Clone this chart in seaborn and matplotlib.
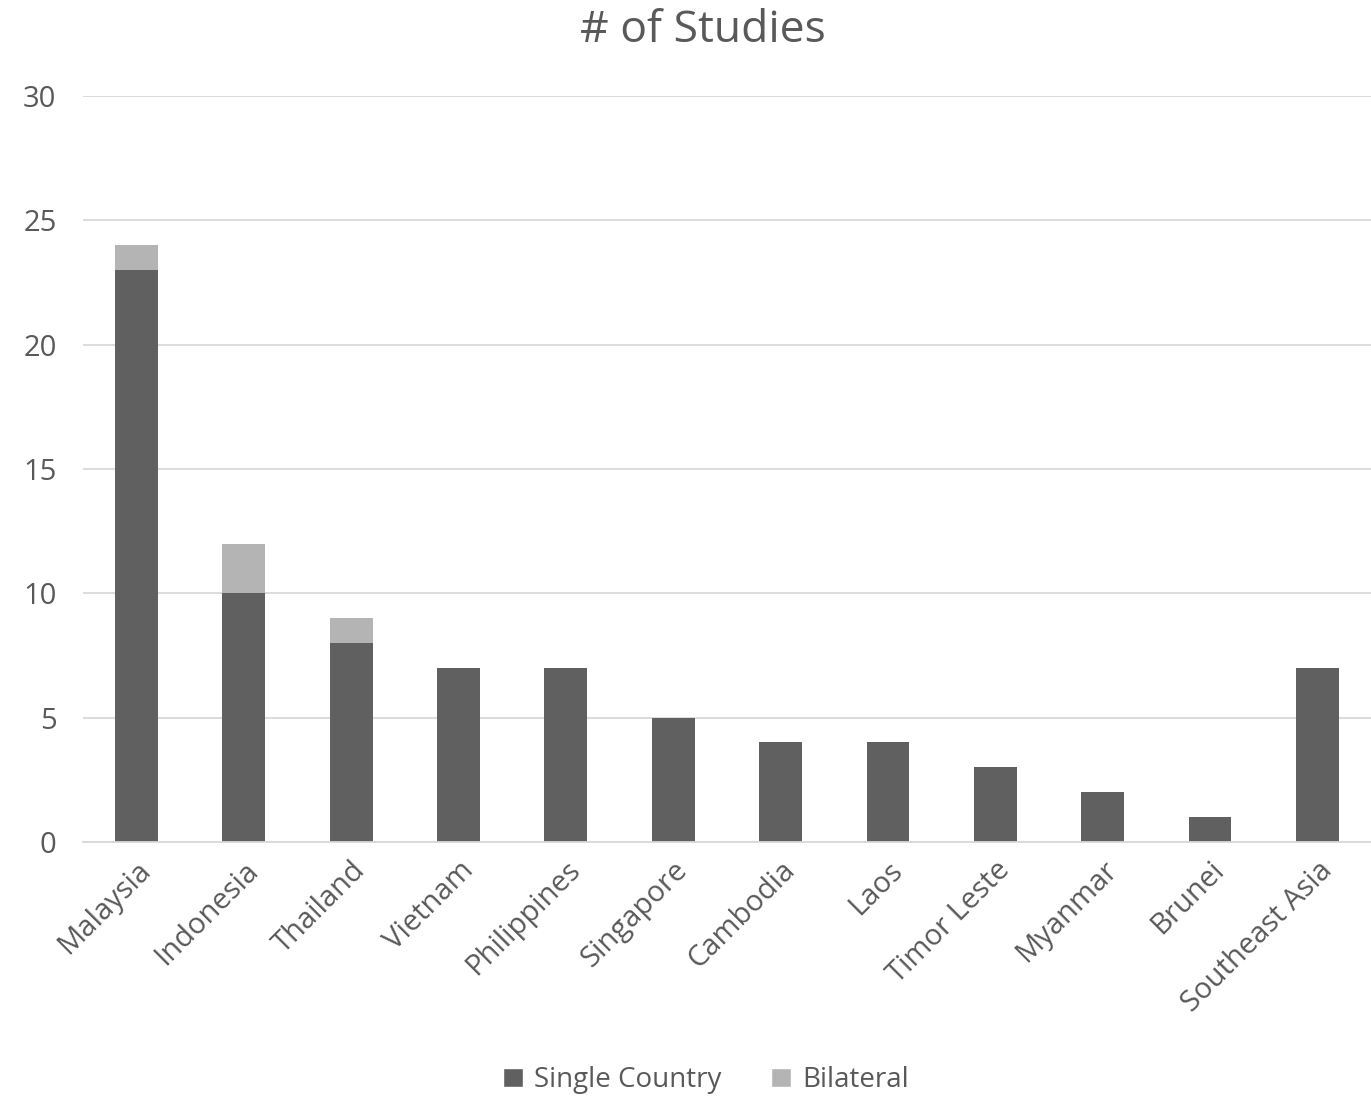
import pandas as pd
import matplotlib
matplotlib.use("Agg")
import matplotlib.pyplot as plt
import seaborn as sns
from matplotlib.patches import Patch

countries = ["Malaysia", "Indonesia", "Thailand", "Vietnam", "Philippines", "Singapore",
             "Cambodia", "Laos", "Timor Leste", "Myanmar", "Brunei", "Southeast Asia"]
single_country = [23, 10, 8, 7, 7, 5, 4, 4, 3, 2, 1, 7]
bilateral = [1, 2, 1, 0, 0, 0, 0, 0, 0, 0, 0, 0]

dark = "#606060"
light = "#b4b4b4"
text_col = "#595959"

df = pd.DataFrame({"country": countries, "single": single_country, "bilateral": bilateral})
df["total"] = df["single"] + df["bilateral"]

sns.set_style("white")
plt.rcParams["font.family"] = ["Open Sans", "DejaVu Sans"]

fig = plt.figure(figsize=(13.71, 10.98), dpi=100)
ax = fig.add_axes([0.0605, 0.2332, 0.9395, 0.6794])

# stacked: draw totals first, then single country on top
sns.barplot(data=df, x="country", y="total", color=light, width=0.4, saturation=1,
            linewidth=0, ax=ax)
sns.barplot(data=df, x="country", y="single", color=dark, width=0.4, saturation=1,
            linewidth=0, ax=ax)

ax.set_ylim(0, 30)
ax.set_xlim(-0.5, len(countries) - 0.5)
ax.set_yticks(range(0, 31, 5))
ax.yaxis.grid(True, color="#d9d9d9", linewidth=1.3)
ax.set_axisbelow(True)
for s in ["top", "right", "left"]:
    ax.spines[s].set_visible(False)
ax.spines["bottom"].set_color("#d9d9d9")
ax.spines["bottom"].set_linewidth(1.3)
ax.tick_params(axis="both", length=0, labelsize=21, colors=text_col)
ax.tick_params(axis="y", pad=19)
ax.tick_params(axis="x", pad=10)
ax.set_xlabel("")
ax.set_ylabel("")
plt.setp(ax.get_xticklabels(), rotation=45, ha="right", rotation_mode="anchor")

fig.text(0.513, 0.972, "# of Studies", ha="center", va="center", fontsize=32, color=text_col)

handles = [Patch(facecolor=dark, label="Single Country"), Patch(facecolor=light, label="Bilateral")]
fig.legend(handles=handles, loc="center", bbox_to_anchor=(0.515, 1 - 1080 / 1098), ncol=2,
           frameon=False, fontsize=20, labelcolor=text_col, handlelength=0.7, handleheight=0.7,
           handletextpad=0.4, columnspacing=1.8)

fig.savefig("out.png", dpi=100)
